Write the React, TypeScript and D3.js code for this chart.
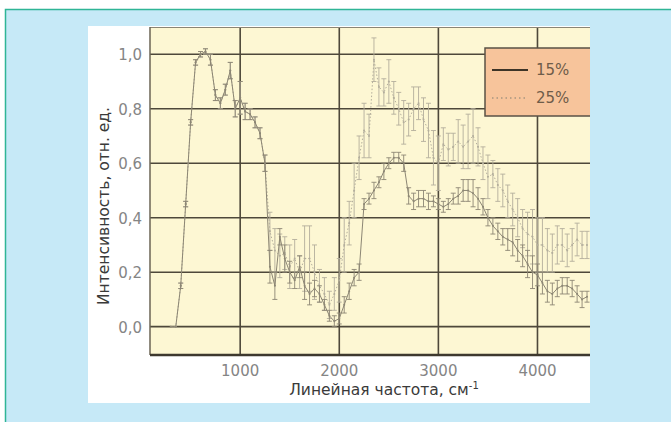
import React from 'react';
import * as d3 from 'd3';

// волновые числа, см-1
const waveNumbers = [
  300, 350, 400, 450, 500, 550, 600, 650, 700, 750, 800, 850, 900, 950, 1000, 1050, 1100, 1150, 1200, 1250,
  1300, 1350, 1400, 1450, 1500, 1550, 1600, 1650, 1700, 1750, 1800, 1850, 1900, 1950, 2000, 2050, 2100, 2150,
  2200, 2250, 2300, 2350, 2400, 2450, 2500, 2550, 2600, 2650, 2700, 2750, 2800, 2850, 2900, 2950, 3000, 3050,
  3100, 3150, 3200, 3250, 3300, 3350, 3400, 3450, 3500, 3550, 3600, 3650, 3700, 3750, 3800, 3850, 3900, 3950,
  4000, 4050, 4100, 4150, 4200, 4250, 4300, 4350, 4400, 4450, 4500,
];

const values15 = [
  0, 0, 0.15, 0.45, 0.75, 0.97, 1.0, 1.01, 0.98, 0.85, 0.82, 0.87, 0.94, 0.8, 0.84, 0.79, 0.78, 0.75, 0.71, 0.6,
  0.22, 0.15, 0.33, 0.25, 0.2, 0.17, 0.22, 0.15, 0.12, 0.14, 0.12, 0.08, 0.04, 0.02, 0.03, 0.08, 0.13, 0.18,
  0.2, 0.45, 0.47, 0.5, 0.53, 0.57, 0.6, 0.62, 0.62, 0.6, 0.48, 0.46, 0.47, 0.47, 0.46, 0.46, 0.45, 0.44,
  0.45, 0.47, 0.48, 0.5, 0.5, 0.49, 0.47, 0.44, 0.4, 0.37, 0.35, 0.33, 0.32, 0.31, 0.28, 0.26, 0.23, 0.2,
  0.19, 0.16, 0.13, 0.12, 0.14, 0.15, 0.15, 0.14, 0.12, 0.1, 0.11,
];
const errors15 = [
  0, 0, 0.01, 0.01, 0.01, 0.01, 0.01, 0.01, 0.02, 0.02, 0.02, 0.02, 0.03, 0.03, 0.06, 0.03, 0.02, 0.02, 0.02, 0.03,
  0.06, 0.05, 0.03, 0.05, 0.04, 0.03, 0.04, 0.05, 0.04, 0.03, 0.03, 0.02, 0.02, 0.02, 0.02, 0.03, 0.03, 0.03,
  0.03, 0.02, 0.02, 0.03, 0.02, 0.03, 0.02, 0.02, 0.02, 0.03, 0.03, 0.03, 0.03, 0.03, 0.03, 0.02, 0.02, 0.02,
  0.02, 0.02, 0.03, 0.04, 0.04, 0.05, 0.04, 0.03, 0.03, 0.03, 0.03, 0.03, 0.04, 0.05, 0.04, 0.04, 0.05, 0.06,
  0.04, 0.04, 0.04, 0.04, 0.03, 0.03, 0.03, 0.03, 0.03, 0.03, 0.02,
];

const values25 = [
  0, 0, 0.15, 0.45, 0.75, 0.97, 1.0, 1.01, 0.98, 0.85, 0.82, 0.87, 0.94, 0.8, 0.84, 0.79, 0.78, 0.75, 0.71, 0.6,
  0.35, 0.28, 0.26, 0.27, 0.22, 0.25, 0.2, 0.25, 0.25, 0.2, 0.15, 0.12, 0.08, 0.12, 0.17, 0.3, 0.38, 0.5,
  0.62, 0.72, 0.7, 0.98, 0.88, 0.86, 0.9, 0.84, 0.8, 0.75, 0.76, 0.8, 0.82, 0.76, 0.72, 0.62, 0.6, 0.67,
  0.65, 0.66, 0.68, 0.66, 0.68, 0.7, 0.66, 0.6, 0.55, 0.56, 0.52, 0.5, 0.46, 0.43, 0.4, 0.36, 0.34, 0.33,
  0.3, 0.3, 0.28, 0.27, 0.3, 0.3, 0.28, 0.3, 0.32, 0.3, 0.3,
];
const errors25 = [
  0, 0, 0.01, 0.01, 0.01, 0.01, 0.01, 0.01, 0.02, 0.02, 0.02, 0.02, 0.03, 0.03, 0.06, 0.03, 0.02, 0.02, 0.02, 0.03,
  0.07, 0.08, 0.08, 0.06, 0.08, 0.07, 0.06, 0.12, 0.12, 0.1, 0.06, 0.06, 0.05, 0.06, 0.08, 0.1, 0.08, 0.1,
  0.08, 0.1, 0.08, 0.08, 0.07, 0.05, 0.08, 0.06, 0.06, 0.08, 0.06, 0.08, 0.06, 0.08, 0.1, 0.1, 0.1, 0.06,
  0.06, 0.05, 0.08, 0.08, 0.1, 0.1, 0.07, 0.06, 0.08, 0.05, 0.06, 0.06, 0.06, 0.06, 0.07, 0.07, 0.08, 0.1,
  0.1, 0.1, 0.08, 0.07, 0.07, 0.06, 0.06, 0.06, 0.06, 0.05, 0.05,
];

const xTicks = [1000, 2000, 3000, 4000];
const yTicks = [0, 0.2, 0.4, 0.6, 0.8, 1.0];
const legendLabels = ['15%', '25%'];

const W = 671;
const H = 422;
const plot = { left: 150, right: 590, top: 27, bottom: 355 };
const font = 'DejaVu Sans, Liberation Sans, sans-serif';

export default function App() {
  const x = d3.scaleLinear().domain([90, 4530]).range([plot.left, plot.right]);
  const y = d3.scaleLinear().domain([-0.104, 1.1]).range([plot.bottom, plot.top]);

  const series = [
    { vals: values15, errs: errors15, color: '#8c8674', dash: null, width: 1 },
    { vals: values25, errs: errors25, color: '#b3ae9c', dash: '1.5,2', width: 1 },
  ];

  const line = d3.line<[number, number]>().x(d => x(d[0])).y(d => y(d[1]));
  const fmt = (v: number) => v.toFixed(1).replace('.', ',');

  return (
    <svg width={W} height={H} style={{ display: 'block', position: 'absolute', left: 0, top: 0 }}>
      <rect x={0} y={0} width={W} height={H} fill="#ffffff" />
      {/* голубая подложка */}
      <rect x={5.5} y={9.5} width={W} height={H} fill="#c6e9f7" stroke="#2fb596" strokeWidth={1.5} />
      {/* белая панель */}
      <rect x={88} y={26} width={plot.right - 88} height={403 - 26} fill="#ffffff" />
      <clipPath id="plotclip">
        <rect x={plot.left} y={plot.top} width={plot.right - plot.left} height={plot.bottom - plot.top} />
      </clipPath>
      <rect x={plot.left} y={plot.top} width={plot.right - plot.left} height={plot.bottom - plot.top} fill="#fdf7d3" />

      {/* сетка */}
      <g stroke="#4e483a" strokeWidth={1.6}>
        {yTicks.map(t => (
          <line key={t} x1={plot.left} x2={plot.right} y1={y(t)} y2={y(t)} />
        ))}
        {xTicks.map(t => (
          <line key={t} x1={x(t)} x2={x(t)} y1={plot.top} y2={plot.bottom} />
        ))}
      </g>
      <line x1={plot.left} x2={plot.right} y1={plot.top + 0.5} y2={plot.top + 0.5} stroke="#8a8474" strokeWidth={1} />
      <line x1={plot.left} x2={plot.left} y1={plot.top} y2={plot.bottom} stroke="#6b6555" strokeWidth={1.5} />
      <line x1={plot.left} x2={plot.right} y1={plot.bottom} y2={plot.bottom} stroke="#3e392e" strokeWidth={2.5} />

      {/* данные */}
      <g clipPath="url(#plotclip)">
        {series.slice().reverse().map((s, si) => {
          const pts: [number, number][] = waveNumbers.map((w, i) => [w, s.vals[i]]);
          return (
            <g key={si}>
              <path d={line(pts) || ''} fill="none" stroke={s.color} strokeWidth={s.width}
                strokeDasharray={s.dash || undefined} />
              {waveNumbers.map((w, i) => {
                const e = s.errs[i];
                if (e <= 0.005) return null;
                const cx = x(w);
                return (
                  <g key={i} stroke={s.color} strokeWidth={0.9}>
                    <line x1={cx} x2={cx} y1={y(s.vals[i] + e)} y2={y(s.vals[i] - e)} />
                    <line x1={cx - 2.5} x2={cx + 2.5} y1={y(s.vals[i] + e)} y2={y(s.vals[i] + e)} />
                    <line x1={cx - 2.5} x2={cx + 2.5} y1={y(s.vals[i] - e)} y2={y(s.vals[i] - e)} />
                  </g>
                );
              })}
              {waveNumbers.map((w, i) => (
                <circle key={'c' + i} cx={x(w)} cy={y(s.vals[i])} r={1} fill={s.color} />
              ))}
            </g>
          );
        })}
      </g>

      {/* легенда */}
      <rect x={485} y={48} width={plot.right - 485 + 2} height={68} fill="#f7c49b" stroke="#5a5246" strokeWidth={1.5} />
      <rect x={plot.right} y={40} width={10} height={90} fill="#c6e9f7" />
      {legendLabels.map((l, i) => (
        <g key={l}>
          <line x1={492} x2={528} y1={70 + i * 28} y2={70 + i * 28}
            stroke={i === 0 ? '#3d3427' : '#a89580'} strokeWidth={i === 0 ? 2 : 1.5}
            strokeDasharray={i === 0 ? undefined : '1.5,3'} />
          <text x={536} y={75 + i * 28} fontSize={15} fill="#6e5c49" fontFamily={font}>{l}</text>
        </g>
      ))}

      {/* подписи осей */}
      <g fontFamily={font} fill="#858585" fontSize={15}>
        {yTicks.map(t => (
          <text key={t} x={142} y={y(t) + 6} textAnchor="end">{fmt(t)}</text>
        ))}
        {xTicks.map(t => (
          <text key={t} x={x(t)} y={376} textAnchor="middle">{t}</text>
        ))}
      </g>
      <text transform="translate(109,206) rotate(-90)" textAnchor="middle" fontSize={15.5}
        fontFamily={font} fill="#3a3a3a">Интенсивность, отн. ед.</text>
      <text x={384} y={395} textAnchor="middle" fontSize={15.5}
        fontFamily={font} fill="#3a3a3a">
        Линейная частота, см<tspan dy={-6} fontSize={10}>-1</tspan>
      </text>
    </svg>
  );
}
